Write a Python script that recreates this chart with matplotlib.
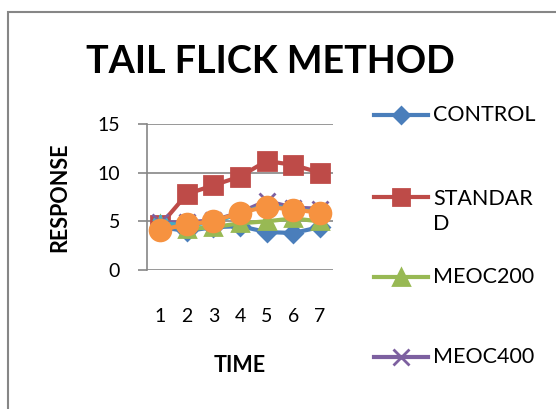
import matplotlib
matplotlib.use("Agg")
import matplotlib.pyplot as plt
from matplotlib.lines import Line2D
from matplotlib.patches import Rectangle

plt.rcParams['font.family'] = ['Lato', 'DejaVu Sans']

# 数据
time = [1, 2, 3, 4, 5, 6, 7]
control = [4.4, 4.0, 4.4, 4.5, 3.9, 3.8, 4.4]
standard = [4.6, 7.8, 8.7, 9.6, 11.2, 10.8, 10.0]
meoc200 = [4.7, 4.2, 4.4, 4.8, 5.0, 5.3, 5.0]
meoc400 = [4.9, 4.9, 5.1, 5.9, 7.1, 6.4, 6.3]
aqoc200 = [4.8, 4.6, 4.9, 5.8, 6.7, 6.2, 6.0]
aqoc400 = [4.1, 4.7, 5.0, 5.9, 6.5, 6.2, 5.9]

names = ["CONTROL", "STANDARD", "MEOC200", "MEOC400", "AQOC200", "AQOC400"]
legend_text = ["CONTROL", "STANDAR\nD", "MEOC200", "MEOC400"]
series = [control, standard, meoc200, meoc400, aqoc200, aqoc400]
colors = ['#4A7EBB', '#BE4B48', '#98B954', '#7D60A0', '#46AAC5', '#F69240']
markers = ['D', 's', '^', 'x', (6, 2, 0), 'o']
msizes = [9.5, 13, 12, 12, 12, 15]

fig = plt.figure(figsize=(5.56, 4.09), dpi=100)
ax = fig.add_axes([147/556, 1-270/409, 186/556, 146/409])

for i, (vals, name) in enumerate(zip(series, names)):
    ax.plot(time, vals, color=colors[i], lw=3, marker=markers[i],
            markersize=msizes[i], markeredgewidth=2, label=name, zorder=3+i)

ax.set_xlim(0.5, 7.5)
ax.set_ylim(0, 15)
ax.set_yticks([0, 5, 10, 15])
ax.set_xticks(time)
ax.yaxis.grid(True, color='#868686', lw=1.2)
ax.set_axisbelow(True)
for s in ['top', 'right', 'bottom']:
    ax.spines[s].set_visible(False)
ax.spines['left'].set_color('#868686')
ax.spines['left'].set_linewidth(1.2)
ax.tick_params(axis='y', length=6.5, width=1.2, color='#868686', pad=13, labelsize=14)
ax.tick_params(axis='x', length=0, pad=27, labelsize=14)

fig.text(270/556, 1-62/409, "TAIL FLICK METHOD", fontsize=27.2, fontweight='bold',
         ha='center', va='center')
fig.text(60/556, 1-197/409, "RESPONSE", fontsize=15.5, fontweight='bold',
         rotation=90, ha='center', va='center')
fig.text(240/556, 1-365/409, "TIME", fontsize=15.5, fontweight='bold',
         ha='center', va='center')

# 图例（手动绘制，只显示前四个）
leg_y = [115, 197, 277, 357]
for i in range(4):
    y = 1 - leg_y[i]/409
    fig.add_artist(Line2D([374/556, 401/556, 428/556], [y, y, y], color=colors[i], lw=3,
                          marker=markers[i], markersize=msizes[i] - 1, markeredgewidth=2,
                          markevery=[1], transform=fig.transFigure))
    if "\n" in legend_text[i]:
        fig.text(433/556, 1-189/409, legend_text[i], fontsize=15.5, ha='left', va='top',
                 linespacing=1.3)
    else:
        fig.text(433/556, y, legend_text[i], fontsize=15.5, ha='left', va='center')

# 图表边框
fig.add_artist(Rectangle((8/556, -0.1), 1.2, 1.1 - 12/409, transform=fig.transFigure,
                         fill=False, edgecolor='#868686', lw=1.5))

fig.savefig("out.png", dpi=100)
